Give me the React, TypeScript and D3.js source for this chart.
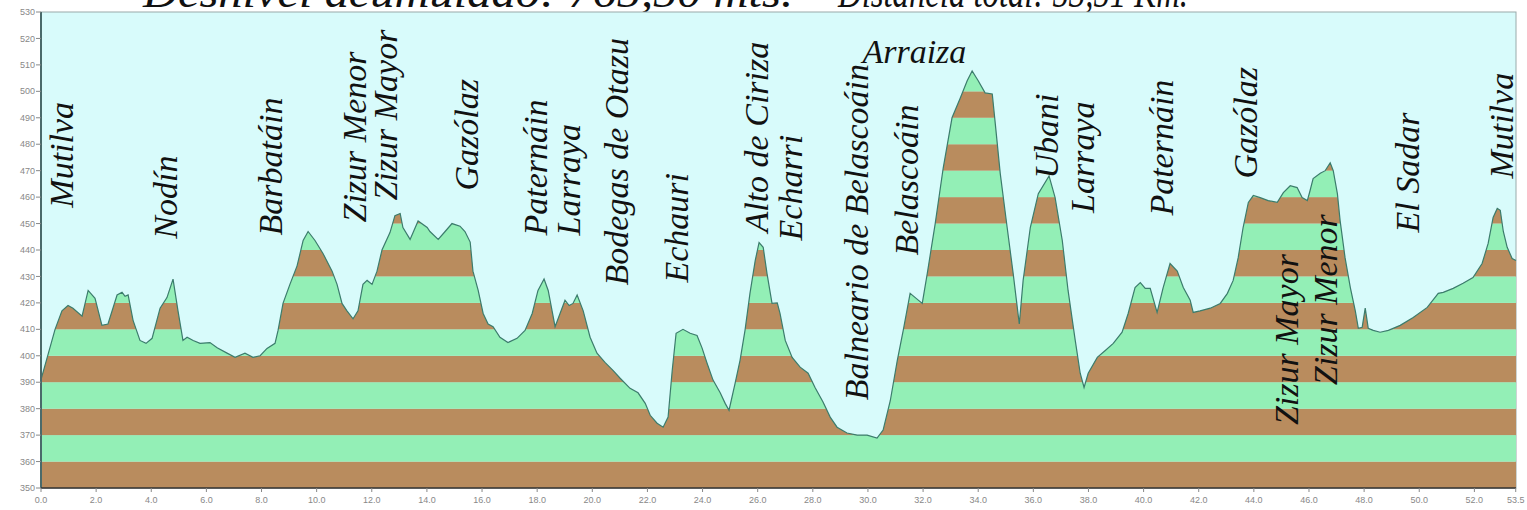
import * as d3 from 'd3';

// elevation profile
const km = [0, 0.51, 0.76, 0.98, 1.16, 1.49, 1.71, 1.96, 2.21, 2.43, 2.76, 2.94, 3.05, 3.16, 3.34, 3.59, 3.81, 4.03, 4.32, 4.57, 4.79, 4.97, 5.15, 5.3, 5.52, 5.77, 6.13, 6.39, 6.75, 7.04, 7.4, 7.69, 7.95, 8.2, 8.49, 8.6, 8.78, 9.03, 9.29, 9.51, 9.69, 9.94, 10.23, 10.56, 10.74, 10.92, 11.1, 11.32, 11.5, 11.68, 11.83, 12.01, 12.19, 12.37, 12.66, 12.84, 13.03, 13.13, 13.39, 13.68, 14.01,
  14.11, 14.41, 14.66, 14.91, 15.2, 15.38, 15.57, 15.67, 15.86, 16.04, 16.22, 16.4, 16.65, 16.94, 17.27, 17.56, 17.82, 18.03, 18.25, 18.4, 18.65, 18.83, 19.01, 19.16, 19.3, 19.45, 19.67, 19.92, 20.17, 20.46, 20.75, 21.01, 21.37, 21.66, 21.92, 22.1, 22.35, 22.57, 22.75, 22.9, 23.04, 23.29, 23.55, 23.8, 23.98, 24.17, 24.38, 24.64, 24.82, 24.96, 25.18, 25.36, 25.54, 25.72, 25.91, 26.05, 26.2, 26.34, 26.52, 26.71, 26.81, 27.0, 27.25, 27.54, 27.83, 28.08,
  28.37, 28.63, 28.88, 29.24, 29.61, 29.97, 30.33, 30.55, 30.81, 31.06, 31.28, 31.53, 31.75, 31.97, 32.15, 32.44, 32.73, 33.05, 33.35, 33.6, 33.78, 34.0, 34.25, 34.51, 34.62, 34.8, 35.05, 35.27, 35.49, 35.63, 35.89, 36.18, 36.57, 36.79, 37.05, 37.26, 37.52, 37.7, 37.84, 37.99, 38.32, 38.61, 38.9, 39.22, 39.44, 39.69, 39.88, 40.06, 40.24, 40.49, 40.71, 40.96, 41.22, 41.44, 41.69,
  41.8, 42.05, 42.42, 42.78, 43.04, 43.25, 43.43, 43.61, 43.8, 43.98, 44.23, 44.52, 44.85, 45.07, 45.32, 45.57, 45.75, 45.94, 46.04, 46.15, 46.41, 46.59, 46.77, 46.88, 47.03, 47.13, 47.31, 47.5, 47.68, 47.79, 47.93, 48.04, 48.15, 48.33, 48.58, 48.88, 49.31, 49.78, 50.29, 50.69, 50.87, 51.23, 51.59, 51.95, 52.28, 52.5, 52.68, 52.83, 52.94, 53.05, 53.19, 53.37, 53.51];

const elev = [391, 410, 417, 419, 418, 415, 424.7, 421.7, 411.5, 412, 423, 424, 422.5, 423, 413.4, 405.8, 404.7, 406.6, 418, 422, 429, 417, 405.8, 407, 405.8, 404.7, 405, 403, 401, 399.4, 401, 399.4, 400, 402.8, 404.7, 409.6, 419.8, 427, 434, 443.6, 447, 443.6, 438.7, 432, 427, 419.8, 417, 414, 417, 427, 428.5, 427, 432, 440, 446.6, 453, 453.8, 448.5, 444, 451, 448.5,
  447, 444, 447, 450, 449, 447, 443, 432, 424.7, 416, 412, 411, 407, 405, 406.6, 409.6, 416, 424.7, 429, 424.7, 411, 416, 421, 419, 419.8, 423, 417, 407, 401, 397.5, 394.5, 391.5, 387.7, 386, 382, 377.5, 374.5, 373, 376.8, 394.5, 408.5, 410, 408.5, 407.7, 403, 397, 390.8, 386, 382, 379.4, 389.6, 398.3, 409.6, 423.6, 436, 442.8, 441, 431, 419.8, 420, 416, 405.8, 399.4, 395.7, 393.4, 388,
  382.5, 376.8, 373, 370.8, 370, 370, 368.9, 371.9, 383, 398, 409.6, 423.6, 421.7, 419.8, 431, 450, 471, 490, 497.5, 504, 507.7, 504, 499.4, 499, 487.7, 468.9, 448.5, 431, 412, 428.5, 448.5, 461.3, 468, 459.8, 443.6, 424.7, 405.8, 393.4, 388, 393.4, 399.4, 402, 404.7, 408.9, 416, 425.8, 427.7, 425.5, 425.5, 416.4, 425.8, 434.9, 432, 425.8, 421,
  416.4, 417, 418, 419.8, 423.6, 428.5, 437, 448.5, 458, 460.6, 459.8, 458.7, 458, 461.7, 464.3, 463.6, 459.8, 458.7, 462.5, 467, 469, 470, 473, 470, 461.3, 451, 437, 425.8, 417, 410.4, 410.8, 418, 410.4, 409.6, 408.9, 409.6, 411.5, 414.5, 418.3, 423.6, 424, 425.5, 427.4, 429.6, 434.9, 442.5, 452.3, 455.7, 455, 447, 441, 436.8, 436];

// place names along the route: km of the text baseline, elevation where the text starts
const placeNames = ['Mutilva', 'Nodín', 'Barbatáin', 'Zizur Menor', 'Zizur Mayor', 'Gazólaz', 'Paternáin', 'Larraya', 'Bodegas de Otazu', 'Echauri', 'Alto de Ciriza', 'Echarri', 'Balneario de Belascoáin', 'Belascoáin', 'Ubani', 'Larraya', 'Paternáin', 'Gazólaz', 'Zizur Mayor', 'Zizur Menor', 'El Sadar', 'Mutilva'];
const placeKm = [1.16, 4.94, 8.75, 11.8, 12.9, 15.86, 18.37, 19.56, 21.3, 23.48, 26.39, 27.62, 30.0, 31.83, 36.9, 38.2, 41.05, 44.1, 45.6, 47.0, 49.98, 53.4];
const placeElev = [456, 444.3, 445.5, 450.4, 458.7, 462.5, 445.5, 445.5, 426.6, 427.7, 446.6, 443.6, 383.2, 437.9, 467, 454, 453, 467, 373.8, 388.9, 446.6, 467];

// horizontal label at the summit
const summitName = 'Arraiza';
const summitKm = 29.8;
const summitElev = 510.8;

const yTicks = [350, 360, 370, 380, 390, 400, 410, 420, 430, 440, 450, 460, 470, 480, 490, 500, 510, 520, 530];
const xTicks = [0, 2, 4, 6, 8, 10, 12, 14, 16, 18, 20, 22, 24, 26, 28, 30, 32, 34, 36, 38, 40, 42, 44, 46, 48, 50, 52, 53.5];

const titleLeft = 'Desnivel acumulado: 765,50 mts.';
const titleRight = 'Distancia total: 53,51 Km.';

export default function App() {
  const x = d3.scaleLinear().domain([0, 53.51]).range([41, 1516]);
  const y = d3.scaleLinear().domain([350, 530]).range([488, 12]);

  const pts: [number, number][] = km.map((k, i) => [k, elev[i]]);
  const area = d3.area<[number, number]>()
    .x(d => x(d[0]))
    .y0(y(350))
    .y1(d => y(d[1]));
  const line = d3.line<[number, number]>()
    .x(d => x(d[0]))
    .y(d => y(d[1]));

  const labelFont = { fontFamily: '"Liberation Serif", serif', fontStyle: 'italic', fontSize: 34, fill: '#111' };

  return (
    <svg width={1527} height={510} style={{ position: 'absolute', left: 0, top: 0, background: '#fff' }}>
      <defs>
        <clipPath id="profile">
          <path d={area(pts) || ''} />
        </clipPath>
      </defs>

      {/* title, cut by the top edge like in the original */}
      <text x={143} y={7} textLength={650} lengthAdjust="spacingAndGlyphs" style={{ ...labelFont, fontSize: 44 }}>{titleLeft}</text>
      <text x={838} y={7} textLength={350} lengthAdjust="spacingAndGlyphs" style={{ ...labelFont, fontSize: 44 }}>{titleRight}</text>

      {/* panel */}
      <rect x={x(0)} y={y(530)} width={x(53.51) - x(0)} height={y(350) - y(530)} fill="#d8fbfb" stroke="#9aa" strokeWidth={1} />

      {/* striped ground under the profile */}
      <g clipPath="url(#profile)">
        {yTicks.slice(0, -1).map((t, i) => (
          <rect key={t} x={x(0)} y={y(yTicks[i + 1])} width={x(53.51) - x(0)} height={y(t) - y(yTicks[i + 1])}
            fill={i % 2 === 0 ? '#b98c5e' : '#93efb6'} />
        ))}
      </g>
      <path d={line(pts) || ''} fill="none" stroke="#3b7c6c" strokeWidth={1.2} />

      {/* axes */}
      <line x1={x(0)} x2={x(0)} y1={y(530)} y2={y(350)} stroke="#4a6a6a" strokeWidth={2} />
      <line x1={x(0)} x2={x(53.51)} y1={y(350)} y2={y(350)} stroke="#333" strokeWidth={1.5} />
      {yTicks.map(t => (
        <g key={t}>
          <line x1={x(0) - 5} x2={x(0)} y1={y(t)} y2={y(t)} stroke="#888" />
          <text x={x(0) - 6} y={y(t)} dy="0.35em" textAnchor="end" fontFamily="Arial, sans-serif" fontSize={9} fill="#888">{t}</text>
        </g>
      ))}
      {xTicks.map(t => (
        <g key={t}>
          <line x1={x(t)} x2={x(t)} y1={y(350)} y2={y(350) + 4} stroke="#888" />
          <text x={x(t)} y={y(350) + 15} textAnchor="middle" fontFamily="Arial, sans-serif" fontSize={9} fill="#888">{t.toFixed(1)}</text>
        </g>
      ))}

      {/* place names */}
      {placeNames.map((name, i) => (
        <text key={i} transform={`translate(${x(placeKm[i])},${y(placeElev[i])}) rotate(-90)`} style={labelFont}>{name}</text>
      ))}
      <text x={x(summitKm)} y={y(summitElev)} style={labelFont}>{summitName}</text>
    </svg>
  );
}
